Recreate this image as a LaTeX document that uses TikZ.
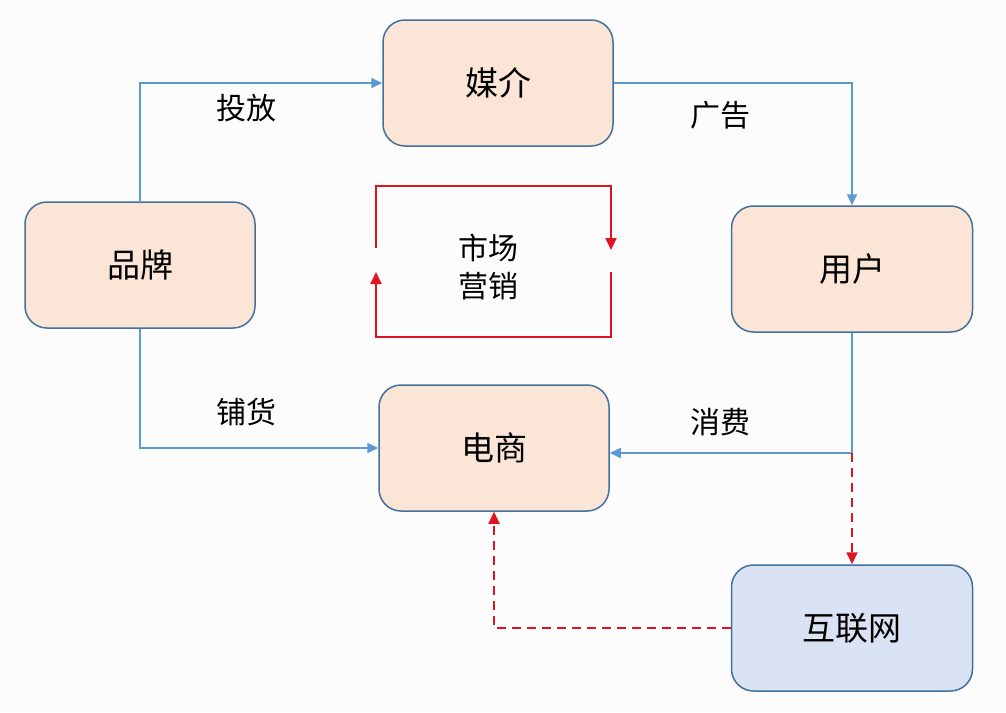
\documentclass[tikz,border=0pt]{standalone}
\usepackage{fontspec}
\setmainfont{Noto Sans CJK SC}
\usetikzlibrary{arrows.meta}
\definecolor{peach}{HTML}{FBE5D6}
\definecolor{lblue}{HTML}{DAE3F3}
\definecolor{bord}{HTML}{41719C}
\definecolor{conn}{HTML}{5B9BD5}
\definecolor{redc}{HTML}{E0141E}
\tikzset{
  box/.style={draw=bord, line width=1.5pt, rounded corners=22pt, minimum width=230pt, minimum height=126pt, font=\fontsize{33}{36}\selectfont, inner sep=0pt},
  lab/.style={font=\fontsize{30}{34}\selectfont, inner sep=0pt},
  bconn/.style={draw=conn, line width=1.6pt, -{Triangle[length=11pt,width=10pt]}},
  rconn/.style={draw=redc, line width=1.8pt, dash pattern=on 9pt off 6pt, -{Triangle[length=12pt,width=11pt]}},
  rloop/.style={draw=redc, line width=1.8pt}
}
\begin{document}
\begin{tikzpicture}[x=1pt,y=-1pt]
\fill[white!98!gray] (0,0) rectangle (1006,712);
\useasboundingbox (0,0) rectangle (1006,712);
\node[box, fill=peach] (meijie) at (498,83) {媒介};
\node[box, fill=peach] (pinpai) at (140,265) {品牌};
\node[box, fill=peach, minimum width=241pt] (yonghu) at (852,269) {用户};
\node[box, fill=peach] (dianshang) at (494,448) {电商};
\node[box, fill=lblue, minimum width=241pt] (hulian) at (852,628) {互联网};
\node[lab] (l1) at (246,108) {投放};
\node[lab] (l2) at (720,115) {广告};
\node[lab] (l3) at (246,412) {铺货};
\node[lab] (l4) at (720,422) {消费};
\node[lab, align=center, font=\fontsize{30}{38}\selectfont] (sc) at (488,267) {市场\\营销};
\draw[bconn] (pinpai.north) |- (meijie.west);
\draw[bconn] (meijie.east) -| (yonghu.north);
\draw[bconn] (pinpai.south) |- (dianshang.west);
\coordinate (c1) at (852,453);
\draw[draw=conn, line width=1.6pt] (yonghu.south) -- (c1);
\draw[bconn] (c1) -- (dianshang.east |- c1);
\draw[rconn] (c1) -- (hulian.north);
\draw[rconn] (hulian.west) -| (dianshang.south);
% market loop
\coordinate (lt) at (376,186);
\coordinate (rb) at (611,337);
\draw[rloop, -{Triangle[length=12pt,width=11pt]}] (376,248) -- (lt) -- (611,186) -- (611,250);
\draw[rloop, -{Triangle[length=12pt,width=11pt]}] (611,272) -- (rb) -- (376,337) -- (376,272);
\end{tikzpicture}
\end{document}
